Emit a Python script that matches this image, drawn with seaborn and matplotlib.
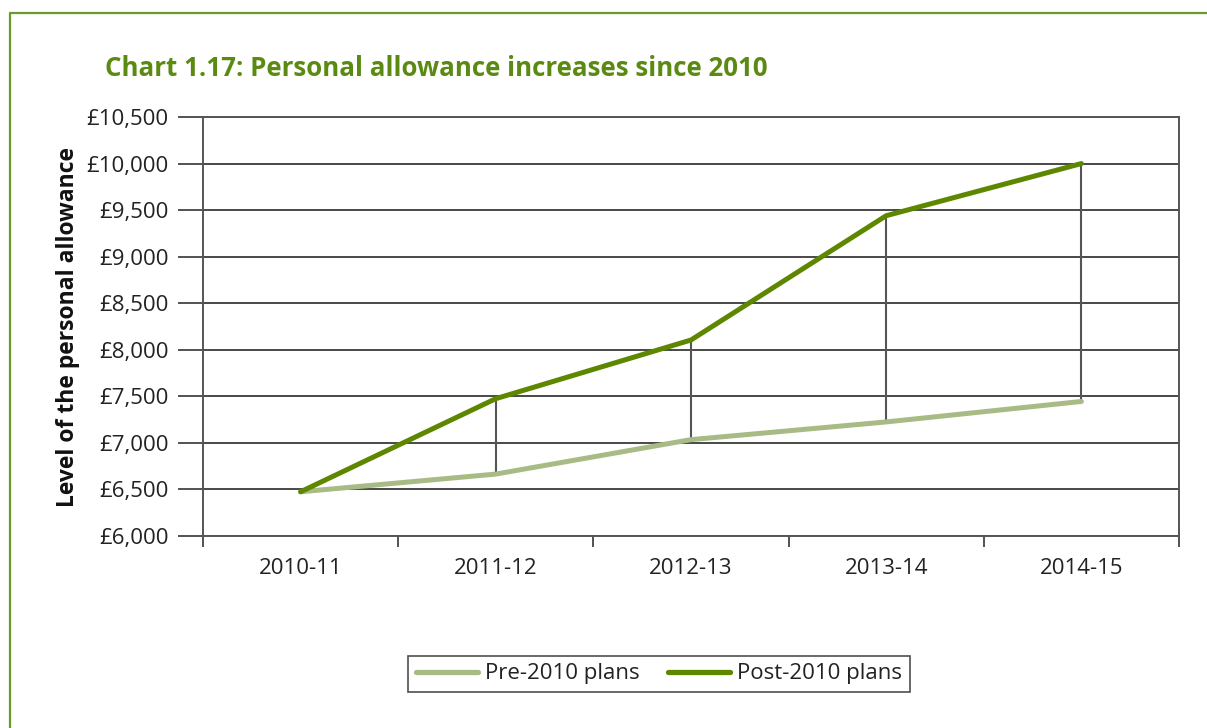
import numpy as np
import pandas as pd
import matplotlib
matplotlib.use("Agg")
import matplotlib.pyplot as plt
from matplotlib.lines import Line2D
from matplotlib.ticker import FixedLocator, FuncFormatter
import seaborn as sns

# ---- data ----
years = ["2010-11", "2011-12", "2012-13", "2013-14", "2014-15"]
pre_2010 = [6475, 6665, 7035, 7225, 7445]
post_2010 = [6475, 7475, 8105, 9440, 10000]
series_names = ["Pre-2010 plans", "Post-2010 plans"]
y_ticks = [6000, 6500, 7000, 7500, 8000, 8500, 9000, 9500, 10000, 10500]
title = "Chart 1.17: Personal allowance increases since 2010"
y_label = "Level of the personal allowance"

PRE_C = "#a9bb85"
POST_C = "#5e8700"
TITLE_C = "#5b8a12"
FRAME_C = "#6a9a2a"

sns.set_theme(style="white")
plt.rcParams["font.family"] = ["Open Sans", "DejaVu Sans"]

df = pd.DataFrame({
    "year": years * 2,
    "value": pre_2010 + post_2010,
    "series": [series_names[0]] * len(years) + [series_names[1]] * len(years),
})

fig = plt.figure(figsize=(12.07, 7.28), dpi=100)
ax = fig.add_axes([203 / 1207, 1 - 536 / 728, (1179 - 203) / 1207, (536 - 117) / 728])

# gridlines
ax.set_axisbelow(True)
ax.yaxis.grid(True, color="#2a2a2a", linewidth=1.2)
ax.xaxis.grid(False)

# high-low drop lines between the series
xs = np.arange(len(years))
ax.vlines(xs[1:], np.array(pre_2010[1:]), np.array(post_2010[1:]),
          color="#555555", linewidth=1.5, zorder=2)

sns.lineplot(data=df, x="year", y="value", hue="series",
             palette={series_names[0]: PRE_C, series_names[1]: POST_C},
             linewidth=3.6, ax=ax, legend=False, zorder=3,
             solid_capstyle="round")

ax.set_xlim(-0.5, len(years) - 0.5)
ax.set_ylim(y_ticks[0], y_ticks[-1])
ax.yaxis.set_major_locator(FixedLocator(y_ticks))
ax.yaxis.set_major_formatter(FuncFormatter(lambda v, p: f"£{v:,.0f}"))

ax.set_xticks(xs)
ax.set_xticklabels(years)
ax.xaxis.set_minor_locator(FixedLocator(np.arange(-0.5, len(years), 1.0)))
ax.tick_params(axis="x", which="major", length=0, pad=16, labelsize=16, labelcolor="#222222")
ax.tick_params(axis="x", which="minor", length=8, width=1.3, color="#444444", direction="out", bottom=True)
ax.tick_params(axis="y", which="major", length=18, width=1.3, color="#444444", direction="out",
               left=True, pad=7, labelsize=16, labelcolor="#222222")

for s in ["left", "right", "top", "bottom"]:
    ax.spines[s].set_visible(True)
    ax.spines[s].set_color("#555555")
    ax.spines[s].set_linewidth(1.4)

ax.set_xlabel("")
ax.set_ylabel(y_label, fontsize=16.5, fontweight="bold", color="#111111", labelpad=4)

fig.text(105 / 1207, 1 - 76 / 728, title, fontsize=18.6, fontweight="bold",
         color=TITLE_C, ha="left", va="baseline")

handles = [Line2D([0], [0], color=PRE_C, lw=3.8, solid_capstyle="round"),
           Line2D([0], [0], color=POST_C, lw=3.8, solid_capstyle="round")]
leg = fig.legend(handles, series_names, loc="center", ncol=2,
                 bbox_to_anchor=(659 / 1207, 1 - 674 / 728),
                 frameon=True, fancybox=False, fontsize=16, handlelength=2.8,
                 handletextpad=0.3, columnspacing=1.3, borderpad=0.35)
leg.get_frame().set_edgecolor("#222222")
leg.get_frame().set_linewidth(1.2)
for t in leg.get_texts():
    t.set_color("#222222")

# outer frame (open right/bottom as in the cropped reference)
fig.add_artist(Line2D([9.5 / 1207, 9.5 / 1207, 1.0], [0.0, 1 - 13 / 728, 1 - 13 / 728],
                      transform=fig.transFigure, color=FRAME_C, linewidth=1.6))

fig.savefig("out.png", dpi=100)
